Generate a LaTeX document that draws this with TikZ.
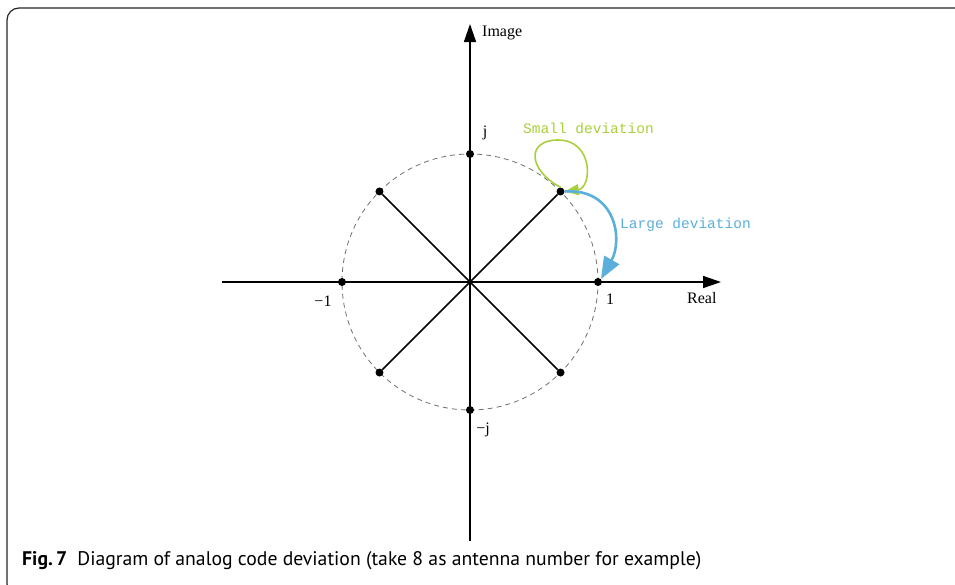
\documentclass[tikz,border=0pt]{standalone}
\usepackage{fontspec}
\setmainfont{Liberation Serif}
\newfontfamily\devfont{Liberation Mono}
\newfontfamily\capfont{PT Sans}
\usepackage{tikz}
\usetikzlibrary{positioning,calc,arrows.meta}
\definecolor{smallgreen}{HTML}{A9D03C}
\definecolor{largeblue}{HTML}{5AAFDB}
\definecolor{circgray}{HTML}{707070}

\begin{document}
\begin{tikzpicture}[x=1pt, y=-1pt,
    axis/.style={line width=1.5pt, -{Triangle[length=18pt,width=12pt]}},
    spoke/.style={line width=1.5pt},
    dot/.style={circle, fill=black, inner sep=0pt, minimum size=8pt},
    lbl/.style={font=\fontsize{16}{16}\selectfont, inner sep=1pt},
    devlbl/.style={font=\devfont\fontsize{14.5}{14.5}\selectfont, inner sep=0pt, anchor=west}]
  \useasboundingbox (0,0) rectangle (955,584);

  % Frame of the figure
  \begin{scope}
    \clip (0,0) rectangle (955,584);
    \draw[black!85, line width=1.2pt, rounded corners=12pt] (7,8) rectangle (980,596);
  \end{scope}

  % Axes
  \coordinate (O) at (470,282);
  \coordinate (xstart) at (222,282);
  \coordinate (xend) at (721,282);
  \coordinate (ystart) at (470,541);
  \coordinate (yend) at (470,24);
  \draw[axis] (xstart) -- (xend);
  \draw[axis] (ystart) -- (yend);

  % Unit circle
  \draw[circgray, line width=0.8pt, dash pattern=on 5pt off 4pt] (O) circle [radius=128pt];

  % 8 antenna points
  \foreach \a in {0,45,...,315} {
    \node[dot] (p\a) at ($(O)+(\a:128pt)$) {};
  }
  \foreach \a in {45,135,225,315} {
    \draw[spoke] (O) -- (p\a);
  }

  % Axis labels
  \node[lbl, anchor=west] (lblimage) at (481,33) {Image};
  \node[lbl, anchor=north west] (lblreal) at (686,291) {Real};
  \node[lbl] (lblj) at (485,133) {j};
  \node[lbl] (lblmj) at (483,430) {−j};
  \node[lbl] (lblmone) at (323,301) {−1};
  \node[lbl] (lblone) at (610,299) {1};

  % Deviations
  \draw[smallgreen, line width=1.6pt, -{Triangle[length=14pt,width=11pt]}]
    (p45.north) .. controls (528,170) and (526,140) .. (558,140)
    .. controls (594,140) and (592,188) .. (p45.east);
  \node[devlbl, text=smallgreen] (lblsmall) at (523,128) {Small deviation};

  \draw[largeblue, line width=2.6pt, -{Triangle[length=22pt,width=17pt]}]
    (p45.east) .. controls (616,188) and (623,240) .. (p0.north east);
  \node[devlbl, text=largeblue] (lbllarge) at (620,225) {Large deviation};

  % Caption
  \node[anchor=west, inner sep=0pt, font=\capfont\fontsize{19.7}{19.7}\selectfont] (caption) at (22,561)
    {\textbf{Fig.\,7}\hspace{10pt}Diagram of analog code deviation (take 8 as antenna number for example)};
\end{tikzpicture}
\end{document}
